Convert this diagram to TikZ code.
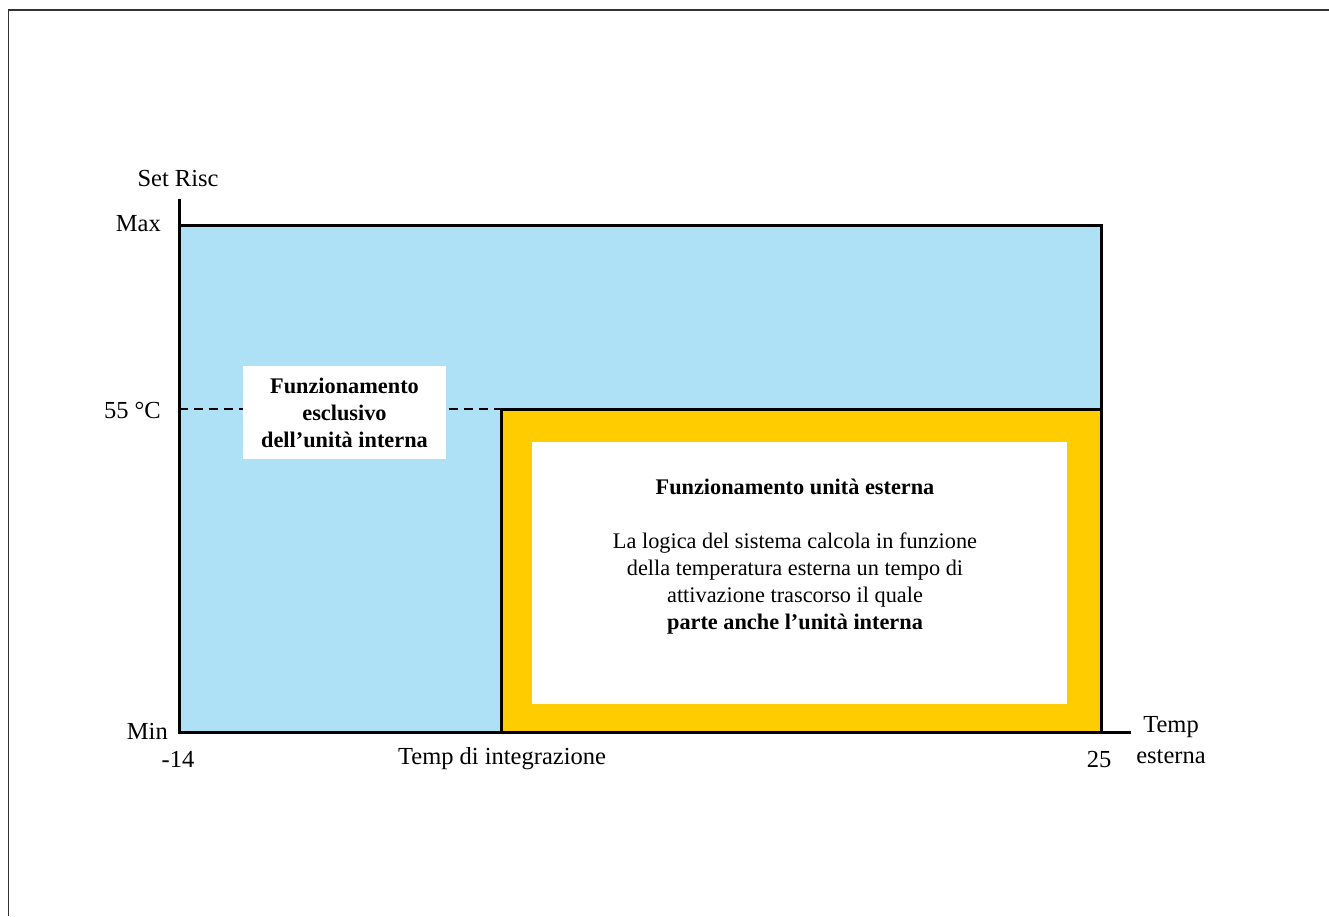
\documentclass[tikz,border=0pt]{standalone}
\usepackage{fontspec}
\setmainfont{Liberation Serif}
\definecolor{skyfill}{HTML}{AEE1F6}
\definecolor{gold}{HTML}{FFCC00}
\begin{document}
\begin{tikzpicture}[x=1pt,y=-1pt,
  lbl/.style={font=\fontsize{24.5}{31}\selectfont, inner sep=0pt},
  boxtxt/.style={font=\fontsize{22.3}{27}\selectfont, inner sep=0pt},
  axisline/.style={line width=3pt},
  framel/.style={line width=1.5pt, black!80}]
\useasboundingbox (0,0) rectangle (1329,916);
\draw[framel] (8.5,916) -- (8.5,10) -- (1329,10);
% areas
\fill[skyfill] (179,225) rectangle (1101,732);
\fill[gold] (501,409) rectangle (1101,732);
\fill[white] (532,442) rectangle (1067,704);
% coordinates
\coordinate (ytop) at (179,199);
\coordinate (orig) at (179,732);
\coordinate (xend) at (1131,732);
\coordinate (maxl) at (179,225);
\coordinate (maxr) at (1101,225);
\coordinate (botr) at (1101,732);
\coordinate (ybl) at (501,732);
\coordinate (ytl) at (501,409);
\coordinate (ytr) at (1101,409);
\coordinate (d55) at (179,409);
\draw[dashed, line width=2pt, dash pattern=on 9pt off 6pt] (d55) -- (ytl);
\draw[axisline] (ytop) -- (orig) -- (xend);
\draw[axisline] (maxl) -- (maxr) -- (botr);
\draw[axisline] (ybl) -- (ytl) -- (ytr);
% labels
\node[lbl] (setrisc) at (178,179) {Set Risc};
\node[lbl, anchor=east] (max) at (161,224) {Max};
\node[lbl, anchor=east] (c55) at (161,410) {55 °C};
\node[lbl, anchor=east] (min) at (168,731) {Min};
\node[lbl] (m14) at (178,759) {-14};
\node[lbl] (tint) at (502,759) {Temp di integrazione};
\node[lbl] (v25) at (1099,759) {25};
\node[lbl, align=center] (test) at (1171,740) {Temp\\esterna};
\node[boxtxt, fill=white, minimum width=203pt, minimum height=93pt, align=center, font=\fontsize{22.3}{27}\selectfont\bfseries] (excl) at (344.5,412.5) {Funzionamento\\esclusivo\\dell’unità interna};
\node[boxtxt, align=center] (info) at (795,556.5) {\textbf{Funzionamento unità esterna}\\[27pt]La logica del sistema calcola in funzione\\della temperatura esterna un tempo di\\attivazione trascorso il quale\\\textbf{parte anche l’unità interna}};
\end{tikzpicture}
\end{document}
